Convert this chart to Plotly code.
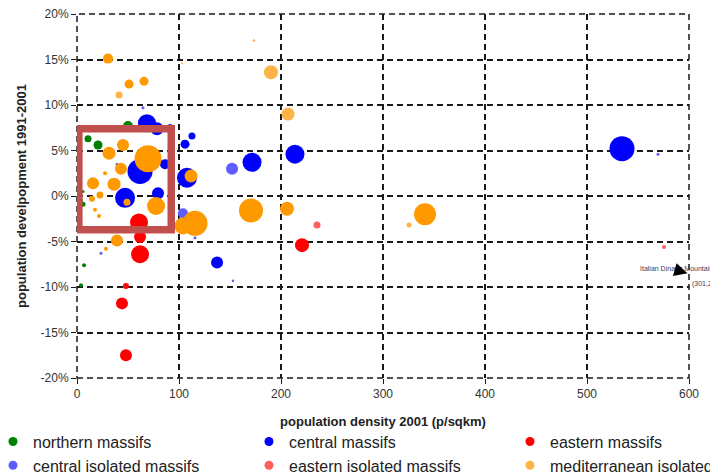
import plotly.graph_objects as go

# ---------------- data ----------------
northern_x = [10.8, 20.6, 50.0, 5.9, 5.9, 3.9, 6.9, 3.9]
northern_y = [6.3, 5.6, 7.7, -0.9, 0.5, -0.5, -7.6, -9.8]
northern_s = [7, 9, 10, 5, 3, 4, 4, 4]

central_x = [68.6, 78.4, 91.2, 112.7, 105.9, 61.8, 86.3, 107.8, 47.1, 79.4, 137.3, 171.6, 213.7, 534.3]
central_y = [8.0, 7.4, 7.4, 6.6, 5.7, 2.7, 3.5, 2.0, -0.2, 0.3, -7.3, 3.7, 4.6, 5.2]
central_s = [18, 13, 9, 7, 9, 25, 10, 20, 20, 12, 12, 19, 19, 25]

eastern_x = [60.8, 61.8, 61.8, 48.0, 44.1, 48.0, 220.6]
eastern_y = [-2.9, -4.5, -6.4, -9.9, -11.8, -17.5, -5.4]
eastern_s = [18, 12, 18, 6, 12, 12, 14]

cen_iso_x = [64.7, 39.2, 152.0, 103.9, 23.5, 153.0, 115.7, 569.6]
cen_iso_y = [9.7, 3.5, 3.0, -1.9, -6.3, -9.3, -4.6, 4.6]
cen_iso_s = [3, 3, 12, 10, 3, 2.5, 3, 3]

east_iso_x = [235.3, 575.5]
east_iso_y = [-3.2, -5.6]
east_iso_s = [7, 4]

med_iso_x = [41.2, 173.5, 190.2, 206.9, 325.5, 103.0]
med_iso_y = [11.1, 17.1, 13.6, 9.0, -3.2, 14.6]
med_iso_s = [7, 2.5, 14, 13, 5, 2]

med_x = [30.4, 51.0, 65.7, 45.1, 31.4, 69.6, 43.1, 27.5, 111.8, 15.7, 36.3, 49.0,
         77.5, 22.5, 14.7, 17.6, 21.6, 39.2, 28.4, 115.7, 103.9, 170.6, 205.9, 341.2]
med_y = [15.1, 12.3, 12.6, 5.6, 4.7, 4.1, 3.0, 2.5, 2.2, 1.4, 1.3, -0.7,
         -1.1, 0.1, -0.3, -1.5, -2.2, -4.9, -5.8, -3.0, -3.3, -1.6, -1.4, -2.0]
med_s = [10, 9, 9, 12, 13, 27, 12, 4, 13, 12, 13, 7,
         18, 7, 6, 4, 4, 12, 4, 25, 17, 24, 14, 22]

x_ticks = [0, 100, 200, 300, 400, 500, 600]
y_ticks = [-20, -15, -10, -5, 0, 5, 10, 15, 20]
y_labels = ["-20%", "-15%", "-10%", "-5%", "0%", "5%", "10%", "15%", "20%"]

# highlight box (data coords)
BOX = dict(x0=1.8, x1=92.4, y0=-3.7, y1=7.4)

FONT = "Liberation Sans, Arial, sans-serif"
DASH = "6px,4px"

series = [
    ("northern massifs", northern_x, northern_y, northern_s, "#008000", "legend"),
    ("central massifs", central_x, central_y, central_s, "#0000FF", "legend2"),
    ("eastern massifs", eastern_x, eastern_y, eastern_s, "#FF0000", "legend3"),
    ("central isolated massifs", cen_iso_x, cen_iso_y, cen_iso_s, "#5C5CFF", "legend"),
    ("eastern isolated massifs", east_iso_x, east_iso_y, east_iso_s, "#FF5F5F", "legend2"),
    ("mediterranean isolated massifs", med_iso_x, med_iso_y, med_iso_s, "#FFB347", "legend3"),
    ("mediterranean massifs", med_x, med_y, med_s, "#FF9900", None),
]

fig = go.Figure()
for name, xs, ys, ss, col, lg in series:
    fig.add_trace(go.Scatter(
        x=xs, y=ys, mode="markers", name=name, legendgroup=name, showlegend=False,
        marker=dict(size=ss, sizemode="diameter", color=col, line=dict(width=0), opacity=1)))
# legend entries (uniform symbol size, as in the reference legend)
for name, xs, ys, ss, col, lg in series:
    if lg:
        fig.add_trace(go.Scatter(
            x=[None], y=[None], mode="markers", name=name, legendgroup=name, legend=lg,
            marker=dict(size=9, color=col, line=dict(width=0))))

grid = dict(showgrid=True, gridcolor="#1a1a1a", gridwidth=1.5, griddash=DASH,
            zeroline=False, showline=False, ticks="outside", ticklen=5,
            tickcolor="#1a1a1a", ticklabeloverflow="allow",
            tickfont=dict(family=FONT, size=12, color="#333333"))

fig.update_xaxes(range=[0, 600], tickvals=x_ticks, **grid,
                 title=dict(text="<b>population density 2001 (p/sqkm)</b>",
                            font=dict(family=FONT, size=13, color="#222222"), standoff=16))
fig.update_yaxes(range=[-20, 20], tickvals=y_ticks, ticktext=y_labels, **grid,
                 title=dict(text="<b>population develpopment 1991-2001</b>",
                            font=dict(family=FONT, size=13, color="#222222"), standoff=11))

# dashed plot frame
fig.add_shape(type="rect", xref="paper", yref="paper", x0=0, x1=1, y0=0, y1=1,
              line=dict(color="#1a1a1a", width=1.5, dash=DASH), layer="below")

fig.add_shape(type="rect", xref="x", yref="y", **BOX,
              line=dict(color="#C0504D", width=7.5), fillcolor="rgba(0,0,0,0)", layer="above")

# off-chart label
fig.add_annotation(xref="paper", yref="paper", x=0.917, y=0.302, xanchor="left", yanchor="middle",
                   text="Italian Dinaric Mountains", showarrow=False,
                   font=dict(family=FONT, size=7, color="#404060"))
fig.add_annotation(xref="paper", yref="paper", x=1.002, y=0.258, xanchor="left", yanchor="middle",
                   text="(301,27%)", showarrow=False,
                   font=dict(family=FONT, size=7, color="#404060"))
fig.add_annotation(xref="paper", yref="paper", x=0.9975, y=0.288, ax=-14, ay=-4,
                   text="", showarrow=True, arrowhead=2, arrowsize=2.2, arrowwidth=1.2,
                   arrowcolor="#000000")

# page has an 8px body margin: plot area on screen is x 77..689, y 14..378
leg = dict(orientation="v", xanchor="left", yanchor="top", y=-0.128,
           bgcolor="rgba(0,0,0,0)", itemsizing="trace", tracegroupgap=0,
           font=dict(family=FONT, size=16, color="#222222"))
fig.update_layout(
    width=718, height=474,
    margin=dict(l=69, r=37, t=6, b=104, autoexpand=False),
    paper_bgcolor="white", plot_bgcolor="white",
    legend=dict(leg, x=(-7 - 77) / 612),
    legend2=dict(leg, x=(249 - 77) / 612),
    legend3=dict(leg, x=(510 - 77) / 612),
)

fig.write_html("out.html")
